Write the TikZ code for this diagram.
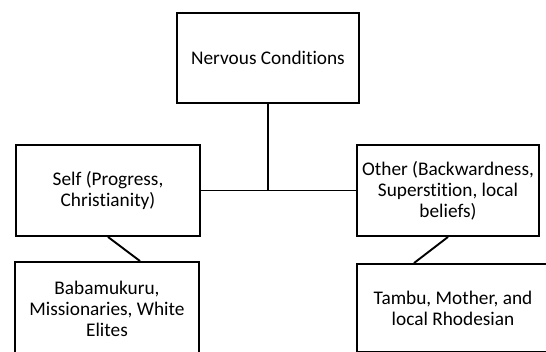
\documentclass[tikz,border=0pt]{standalone}
\usepackage{fontspec}
\setmainfont{Carlito}[Ligatures=NoCommon]
\begin{document}
\begin{tikzpicture}[x=1pt,y=-1pt,
  box/.style={draw=black,line width=1.9pt,fill=white,inner sep=0pt,align=center,
    font=\fontsize{19.3}{21.2}\selectfont},
  link/.style={draw=black,line width=1.9pt}]
\useasboundingbox (0,0) rectangle (546,351);
\clip (0,0) rectangle (546,351);
\node[box,minimum width=182pt,minimum height=90pt] (top) at (268,58) {Nervous Conditions};
\node[box,minimum width=184pt,minimum height=91pt] (self) at (108,190.5) {Self (Progress,\\Christianity)};
\node[box,minimum width=182pt,minimum height=91pt] (other) at (448,190.5) {Other (Backwardness,\\Superstition, local\\beliefs)};
\node[box,minimum width=184pt,minimum height=94pt] (bl) at (107,309) {Babamukuru,\\Missionaries, White\\Elites};
\node[box,minimum width=192pt,minimum height=88pt] (br) at (453,308) {Tambu, Mother, and\\local Rhodesian};
\coordinate (j) at (268,190.5);
\draw[link] (top.south) -- (j);
\draw[link] (self.east) -- (other.west);
\draw[link] (self.south) -- ([xshift=33pt]bl.north);
\draw[link] (other.south) -- ([xshift=-39pt]br.north);
\end{tikzpicture}
\end{document}
